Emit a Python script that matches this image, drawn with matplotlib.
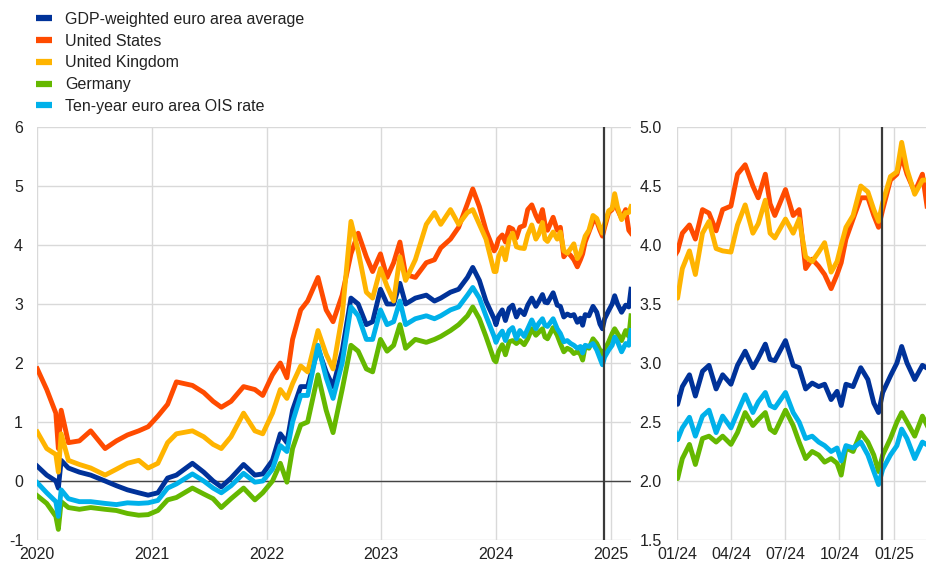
import pandas as pd
import matplotlib
matplotlib.use("Agg")
import matplotlib.pyplot as plt
import matplotlib.dates as mdates
from matplotlib.lines import Line2D

plt.rcParams['font.family'] = ['Liberation Sans', 'DejaVu Sans']
plt.rcParams['axes.unicode_minus'] = False

# observation dates (sampled from the daily series)
dates = [
    "2020-01-02", "2020-02-01", "2020-03-01", "2020-03-09", "2020-03-18", "2020-04-10",
    "2020-05-15", "2020-06-20", "2020-08-05", "2020-09-10", "2020-10-15", "2020-11-20",
    "2020-12-20",
    "2021-01-20", "2021-02-20", "2021-03-20", "2021-05-10", "2021-06-15", "2021-07-15",
    "2021-08-10", "2021-09-10", "2021-10-20", "2021-11-25", "2021-12-20",
    "2022-01-20", "2022-02-14", "2022-03-07", "2022-03-25", "2022-04-20", "2022-05-12",
    "2022-06-14", "2022-07-10", "2022-08-01", "2022-08-30", "2022-09-27", "2022-10-20",
    "2022-11-15", "2022-12-05", "2022-12-30",
    "2023-01-20", "2023-02-10", "2023-03-02", "2023-03-20", "2023-04-20", "2023-05-25",
    "2023-06-20", "2023-07-10", "2023-08-10", "2023-09-05", "2023-10-03", "2023-10-20",
    "2023-11-10", "2023-12-01", "2023-12-27",
    "2024-01-02", "2024-01-10", "2024-01-22", "2024-02-01", "2024-02-13", "2024-02-24",
    "2024-03-07", "2024-03-18", "2024-04-01", "2024-04-12", "2024-04-25", "2024-05-08",
    "2024-05-17", "2024-05-29", "2024-06-06", "2024-06-14", "2024-07-02", "2024-07-15",
    "2024-07-25", "2024-08-05", "2024-08-16", "2024-08-27", "2024-09-06", "2024-09-17",
    "2024-09-27", "2024-10-04", "2024-10-12", "2024-10-24", "2024-11-06", "2024-11-18",
    "2024-11-28", "2024-12-06", "2024-12-13", "2024-12-26",
    "2025-01-06", "2025-01-14", "2025-01-23", "2025-02-05", "2025-02-18", "2025-02-28",
    "2025-03-07",
]

euro_area = [
    0.25, 0.1, 0.0, -0.12, 0.35, 0.22, 0.15, 0.1, 0.0, -0.08, -0.15, -0.2, -0.24,
    -0.2, 0.05, 0.1, 0.3, 0.15, 0.0, -0.1, 0.05, 0.28, 0.1, 0.12,
    0.35, 0.8, 0.65, 1.2, 1.6, 1.6, 2.25, 1.85, 1.6, 2.2, 3.1, 3.0, 2.65, 2.7, 3.25,
    3.0, 3.0, 3.35, 3.0, 3.1, 3.15, 3.05, 3.1, 3.2, 3.25, 3.45, 3.62, 3.4, 3.05, 2.75,
    2.65, 2.8, 2.9, 2.72, 2.93, 2.98, 2.78, 2.9, 2.82, 2.98, 3.1, 2.96, 3.04, 3.16,
    3.03, 3.02, 3.19, 2.98, 2.96, 2.78, 2.83, 2.8, 2.82, 2.69, 2.76, 2.64, 2.82, 2.8,
    2.96, 2.86, 2.66, 2.58, 2.75, 2.89, 3.0, 3.14, 3.0, 2.86, 2.98, 2.95, 3.25,
]

united_states = [
    1.9, 1.55, 1.15, 0.55, 1.2, 0.65, 0.68, 0.85, 0.55, 0.68, 0.78, 0.85, 0.92,
    1.1, 1.3, 1.68, 1.62, 1.5, 1.35, 1.25, 1.35, 1.6, 1.55, 1.45,
    1.8, 2.0, 1.75, 2.4, 2.9, 3.05, 3.45, 2.9, 2.7, 3.15, 3.85, 4.2, 3.8, 3.55, 3.85,
    3.45, 3.7, 4.05, 3.5, 3.45, 3.7, 3.75, 3.95, 4.1, 4.3, 4.7, 4.95, 4.65, 4.25, 3.9,
    3.95, 4.1, 4.17, 4.05, 4.3, 4.27, 4.12, 4.3, 4.33, 4.6, 4.68, 4.5, 4.4, 4.6,
    4.35, 4.25, 4.47, 4.25, 4.3, 3.8, 3.88, 3.82, 3.75, 3.63, 3.75, 3.85, 4.05, 4.22,
    4.4, 4.4, 4.25, 4.15, 4.3, 4.55, 4.6, 4.75, 4.6, 4.45, 4.6, 4.25, 4.2,
]

united_kingdom = [
    0.83, 0.55, 0.45, 0.15, 0.8, 0.35, 0.28, 0.22, 0.1, 0.2, 0.3, 0.35, 0.22,
    0.3, 0.65, 0.8, 0.85, 0.75, 0.62, 0.55, 0.75, 1.15, 0.85, 0.8,
    1.15, 1.55, 1.4, 1.65, 1.95, 1.85, 2.55, 2.15, 1.9, 2.8, 4.4, 3.9, 3.2, 3.1, 3.6,
    3.3, 3.05, 3.8, 3.4, 3.75, 4.35, 4.55, 4.35, 4.6, 4.35, 4.55, 4.6, 4.35, 4.1, 3.55,
    3.55, 3.8, 3.95, 3.75, 4.1, 4.2, 3.97, 3.95, 3.94, 4.17, 4.34, 4.1, 4.18, 4.38,
    4.1, 4.06, 4.22, 4.1, 4.22, 3.9, 3.86, 3.94, 4.02, 3.77, 3.86, 4.0, 4.15, 4.25,
    4.5, 4.45, 4.3, 4.2, 4.36, 4.58, 4.62, 4.87, 4.64, 4.43, 4.55, 4.55, 4.65,
]

germany = [
    -0.25, -0.38, -0.6, -0.82, -0.35, -0.45, -0.48, -0.45, -0.48, -0.5, -0.55, -0.58, -0.57,
    -0.5, -0.32, -0.28, -0.12, -0.22, -0.3, -0.45, -0.3, -0.12, -0.32, -0.2,
    0.0, 0.3, -0.02, 0.55, 0.95, 1.0, 1.8, 1.2, 0.82, 1.55, 2.3, 2.2, 1.9, 1.85, 2.4,
    2.2, 2.3, 2.65, 2.25, 2.4, 2.35, 2.4, 2.45, 2.55, 2.65, 2.8, 2.95, 2.75, 2.45, 2.05,
    2.02, 2.19, 2.31, 2.14, 2.36, 2.38, 2.33, 2.38, 2.31, 2.41, 2.58, 2.47, 2.52, 2.58,
    2.44, 2.41, 2.6, 2.47, 2.33, 2.19, 2.25, 2.22, 2.16, 2.19, 2.15, 2.05, 2.28, 2.25,
    2.41, 2.33, 2.22, 2.08, 2.22, 2.36, 2.5, 2.58, 2.5, 2.38, 2.55, 2.45, 2.8,
]

ois_10y = [
    -0.03, -0.2, -0.35, -0.6, -0.15, -0.3, -0.35, -0.35, -0.38, -0.4, -0.37, -0.38, -0.37,
    -0.33, -0.12, -0.05, 0.12, 0.0, -0.12, -0.2, -0.08, 0.13, -0.02, 0.0,
    0.2, 0.6, 0.5, 1.0, 1.45, 1.45, 2.3, 1.75, 1.4, 2.0, 2.95, 2.8, 2.4, 2.4, 2.9,
    2.65, 2.7, 3.05, 2.65, 2.75, 2.8, 2.75, 2.8, 2.9, 2.95, 3.15, 3.28, 3.1, 2.8, 2.45,
    2.35, 2.45, 2.54, 2.38, 2.55, 2.6, 2.41, 2.55, 2.45, 2.58, 2.73, 2.58, 2.67, 2.75,
    2.64, 2.62, 2.75, 2.58, 2.5, 2.36, 2.38, 2.33, 2.3, 2.25, 2.28, 2.17, 2.3, 2.28,
    2.33, 2.22, 2.08, 1.97, 2.1, 2.22, 2.3, 2.44, 2.36, 2.19, 2.33, 2.3, 2.55,
]

labels = ["GDP-weighted euro area average", "United States", "United Kingdom",
          "Germany", "Ten-year euro area OIS rate"]
colors = ["#003299", "#FF4B00", "#FFB400", "#65B800", "#00B1EA"]
marker_date = "2024-12-12"

x = pd.to_datetime(dates)
series = [euro_area, united_states, united_kingdom, germany, ois_10y]

fig = plt.figure(figsize=(9.26, 5.65), dpi=100)
W, H = 926.0, 565.0
bottom = (H - 540) / H
height = (540 - 127) / H
ax1 = fig.add_axes([37 / W, bottom, (631 - 37) / W, height])
ax2 = fig.add_axes([677 / W, bottom, (932.5 - 677) / W, height])

grid_c = "#d9d9d9"
text_c = "#222222"

for ax in (ax1, ax2):
    for s, c in zip(series, colors):
        ax.plot(x, s, color=c, lw=3.5, solid_joinstyle="round")
    ax.axvline(pd.Timestamp(marker_date), color="#3a3a3a", lw=1.6, zorder=5)
    ax.grid(True, color=grid_c, lw=1)
    ax.set_axisbelow(True)
    for sp in ax.spines.values():
        sp.set_visible(False)
    ax.tick_params(length=0, labelsize=11.5, colors=text_c)
    ax.tick_params(axis="x", pad=5)

# left panel: 2020 - early 2025
ax1.set_xlim(pd.Timestamp("2020-01-01"), pd.Timestamp("2025-03-07"))
ax1.set_ylim(-1, 6)
ax1.set_yticks(range(-1, 7))
ax1.xaxis.set_major_locator(mdates.YearLocator())
ax1.xaxis.set_major_formatter(mdates.DateFormatter("%Y"))
ax1.axhline(0, color="#444444", lw=1, zorder=1.5)
ax1.tick_params(axis="y", pad=10)

# right panel: zoom on 2024 - 2025
ax2.set_xlim(pd.Timestamp("2024-01-01"), pd.Timestamp("2025-03-07"))
ax2.set_ylim(1.5, 5.0)
ax2.set_yticks([1.5, 2.0, 2.5, 3.0, 3.5, 4.0, 4.5, 5.0])
ax2.yaxis.set_major_formatter(matplotlib.ticker.FormatStrFormatter("%.1f"))
ax2.xaxis.set_major_locator(mdates.MonthLocator(bymonth=[1, 4, 7, 10]))
ax2.xaxis.set_major_formatter(mdates.DateFormatter("%m/%y"))
ax2.tick_params(axis="y", pad=11)

handles = [Line2D([], [], color=c, lw=4.5, solid_capstyle="butt") for c in colors]
fig.legend(handles, labels, loc="upper left", bbox_to_anchor=(36 / W, 1 - 12 / H),
           frameon=False, fontsize=11.5, handlelength=1.0, handletextpad=0.8,
           labelspacing=0.42, borderpad=0, borderaxespad=0, labelcolor=text_c)

fig.savefig("out.png", dpi=100)
